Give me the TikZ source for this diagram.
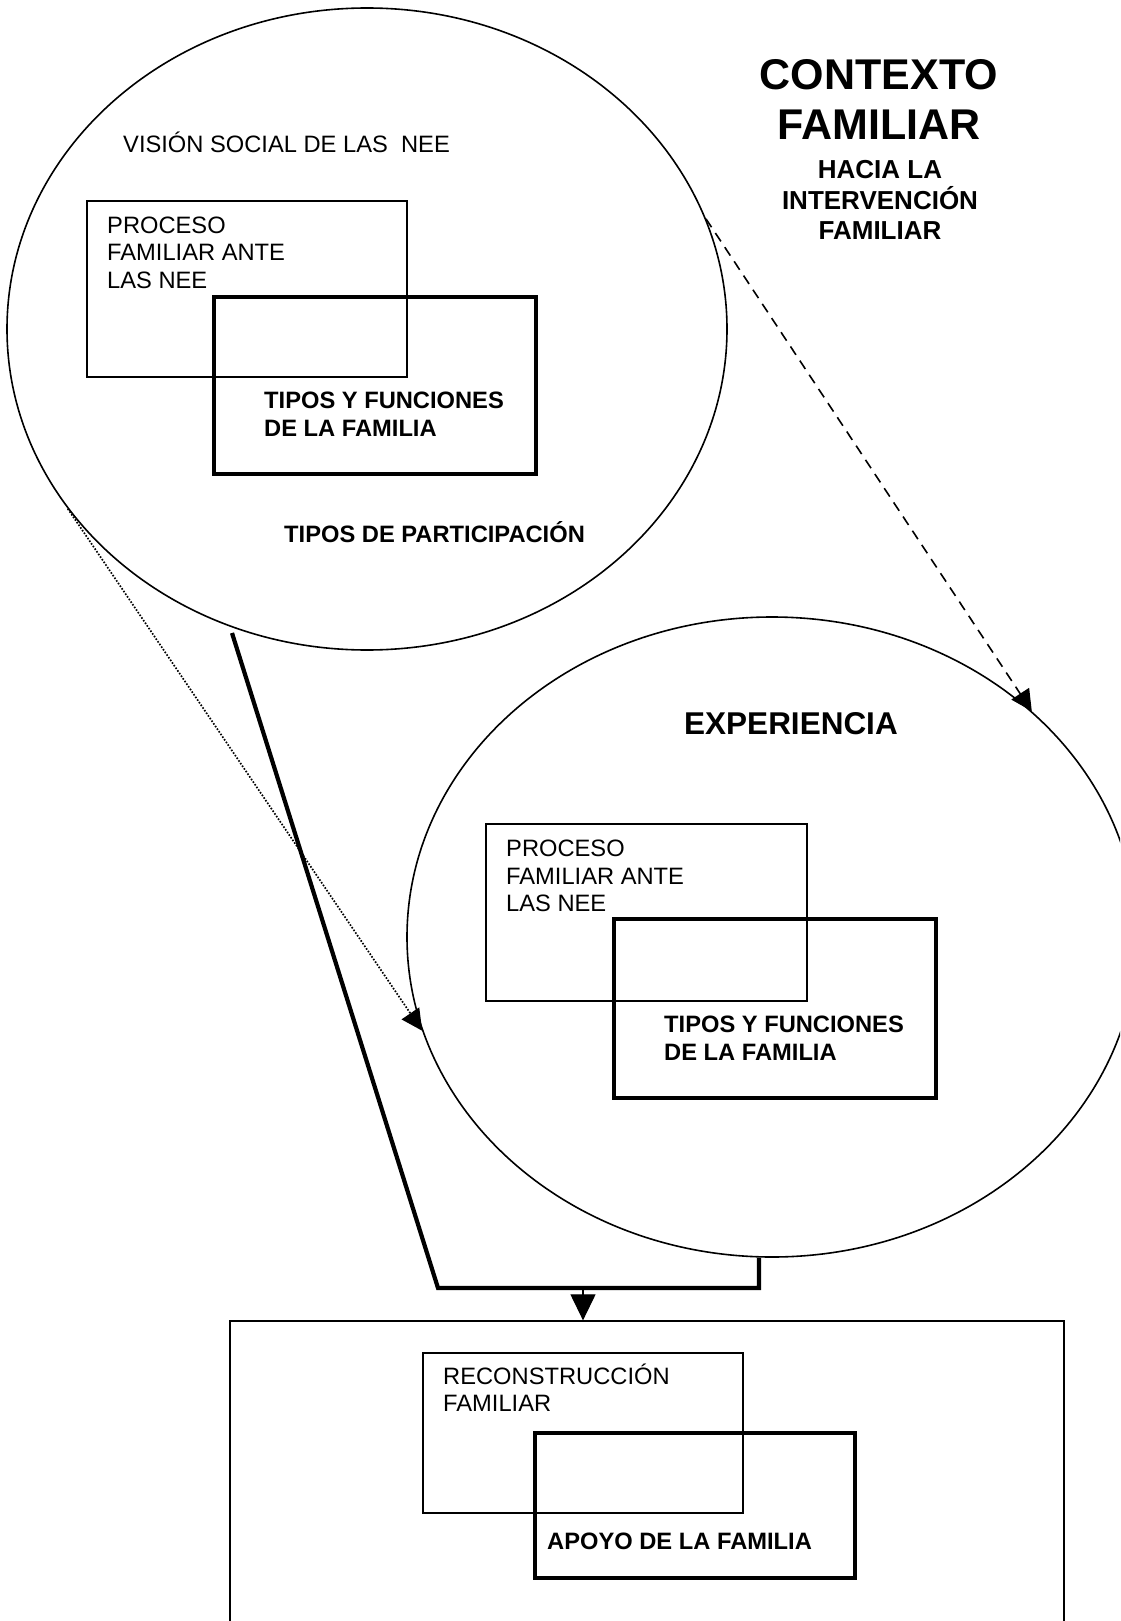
\documentclass[tikz,border=0pt]{standalone}
\usepackage{fontspec}
\setmainfont{Liberation Sans}
\usetikzlibrary{shapes.geometric,arrows.meta}
\begin{document}
\begin{tikzpicture}[x=1pt, y=-1pt,
    oval/.style = {draw, ellipse, line width=1.6pt, inner sep=0pt},
    lightbox/.style = {draw, rectangle, line width=1.3pt, inner sep=0pt},
    heavybox/.style = {draw, rectangle, line width=4.5pt, inner sep=0pt},
    txt/.style = {anchor=base west, inner sep=0pt, align=left, font=\fontsize{23.7}{27.5}\selectfont},
    btxt/.style = {txt, font=\fontsize{23.7}{27.8}\selectfont\bfseries},
    heavy/.style = {line width=4.2pt},
    dashline/.style = {line width=1.6pt, dash pattern=on 10pt off 7pt, -{Triangle[length=21pt,width=21pt]}},
    dotline/.style = {line width=1.7pt, dash pattern=on 1.6pt off 1.6pt, -{Triangle[length=21pt,width=21pt]}}]
    \clip (0,0) rectangle (1120,1621);
    \fill[white] (0,0) rectangle (1120,1621);
    \node[oval, minimum width=720pt, minimum height=642pt] (vision) at (367,329) {};
    \node[oval, minimum width=730pt, minimum height=640pt] (exper) at (772,937) {};
    \node[lightbox, minimum width=320pt, minimum height=176pt] (proc1) at (247,289) {};
    \node[heavybox, minimum width=322pt, minimum height=177pt] (tipos1) at (375,385.5) {};
    \node[lightbox, minimum width=321pt, minimum height=177pt] (proc2) at (646.5,912.5) {};
    \node[heavybox, minimum width=322pt, minimum height=179pt] (tipos2) at (775,1008.5) {};
    \node[lightbox, minimum width=834pt, minimum height=379pt] (result) at (647,1510.5) {};
    \node[lightbox, minimum width=320pt, minimum height=160pt] (recon) at (583,1433) {};
    \node[heavybox, minimum width=320pt, minimum height=145pt] (apoyo) at (695,1505.5) {};
    \node[txt] (vistxt) at (123,153) {VISIÓN SOCIAL DE LAS\ \ NEE};
    \node[txt] (proctxt1) at (107,288) {PROCESO\\FAMILIAR ANTE\\LAS NEE};
    \node[btxt] (tipostxt1) at (264,436) {TIPOS Y FUNCIONES\\DE LA FAMILIA};
    \node[btxt] (partic) at (284,542) {TIPOS DE PARTICIPACIÓN};
    \node[anchor=base, inner sep=0pt, align=center, font=\fontsize{43}{50}\selectfont\bfseries] (titulo) at (879,140) {CONTEXTO\\FAMILIAR};
    \node[anchor=base, inner sep=0pt, align=center, font=\fontsize{26}{30.5}\selectfont\bfseries] (subtit) at (880,240) {HACIA LA\\INTERVENCIÓN\\FAMILIAR};
    \node[btxt, font=\fontsize{31.5}{36}\selectfont\bfseries] (exptxt) at (684,734) {EXPERIENCIA};
    \node[txt] (proctxt2) at (506,911.5) {PROCESO\\FAMILIAR ANTE\\LAS NEE};
    \node[btxt] (tipostxt2) at (664,1060) {TIPOS Y FUNCIONES\\DE LA FAMILIA};
    \node[txt] (recontxt) at (443,1411.5) {RECONSTRUCCIÓN\\FAMILIAR};
    \node[btxt] (apoyotxt) at (547,1549) {APOYO DE LA FAMILIA};
    \coordinate (top) at (232,633);
    \coordinate (bendL) at (438,1288);
    \coordinate (bendR) at (759,1288);
    \coordinate (fork) at (583,1288);
    \draw[heavy] (top) -- (bendL) -- (bendR) -- (bendR |- exper.south);
    \draw[line width=1.2pt, -{Triangle[length=26pt,width=25pt]}] (fork) -- (fork |- result.north);
    \draw[dashline] (vision.18) -- (exper.41);
    \draw[dotline] (vision.211) -- (exper.195);
\end{tikzpicture}
\end{document}
